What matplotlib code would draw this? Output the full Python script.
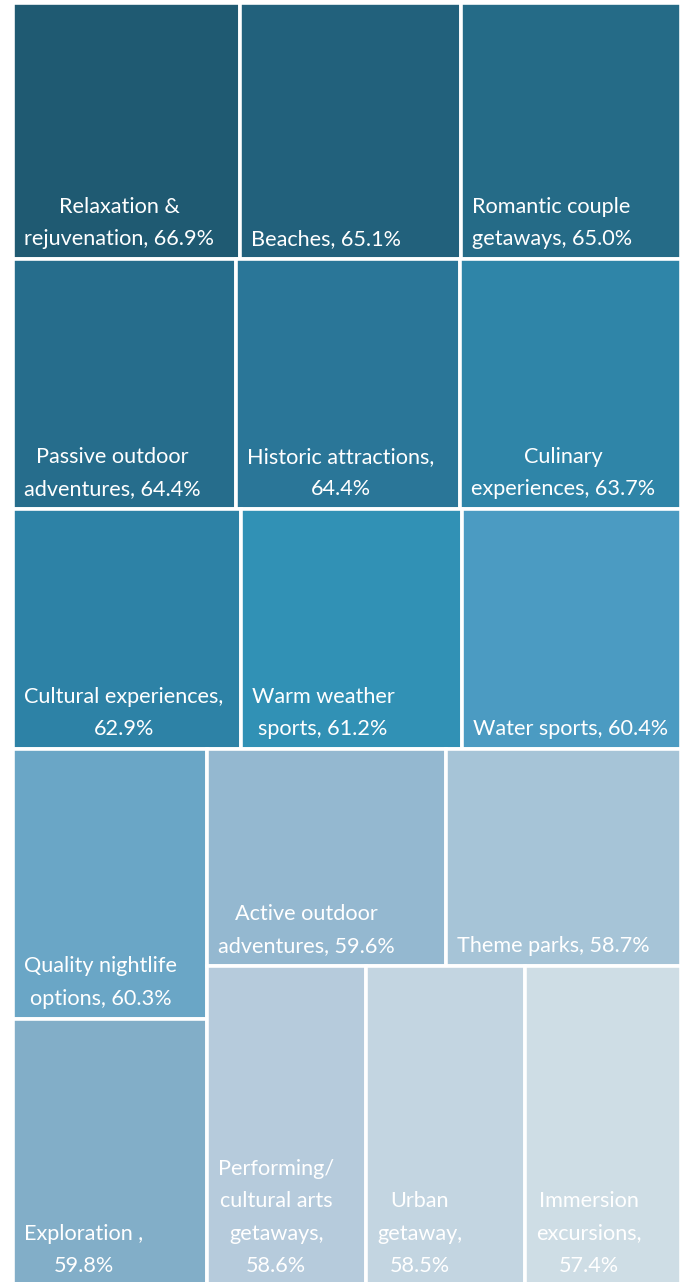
import matplotlib.pyplot as plt
from matplotlib.patches import Rectangle

# treemap data (share of travellers, %)
names = [
    "Relaxation &\nrejuvenation", "Beaches", "Romantic couple\ngetaways",
    "Passive outdoor\nadventures", "Historic attractions", "Culinary\nexperiences",
    "Cultural experiences", "Warm weather\nsports", "Water sports",
    "Quality nightlife\noptions", "Exploration ", "Active outdoor\nadventures",
    "Theme parks", "Performing/\ncultural arts\ngetaways", "Urban\ngetaway",
    "Immersion\nexcursions",
]
joiners = [", ", ", ", ", ", ", ", ",\n", ", ", ",\n", ", ", ", ", ", ", ",\n", ", ", ", ", ",\n", ",\n", ",\n"]
values = [66.9, 65.1, 65.0, 64.4, 64.4, 63.7, 62.9, 61.2, 60.4, 60.3, 59.8, 59.6, 58.7, 58.6, 58.5, 57.4]
colors = [
    "#1f5a72", "#22617c", "#256b87",
    "#266d8c", "#2a7698", "#2f85a8",
    "#2d82a6", "#3191b5", "#4b9bc2",
    "#6aa6c6", "#82aec8", "#94b8d0",
    "#a6c4d7", "#b6cbdc", "#c3d5e1", "#cedde5",
]

# slice-and-dice structure: "v" stacks children top to bottom, "h" puts them side by side
structure = ("v", [
    ("h", [0, 1, 2]),
    ("h", [3, 4, 5]),
    ("h", [6, 7, 8]),
    ("h", [("v", [9, 10]), ("v", [("h", [11, 12]), ("h", [13, 14, 15])])]),
])


def total(node):
    if isinstance(node, int):
        return values[node]
    return sum(total(c) for c in node[1])


def layout(node, x, y, w, h, out):
    if isinstance(node, int):
        out[node] = (x, y, w, h)
        return
    direction, children = node
    s = total(node)
    pos = 0.0
    for c in children:
        frac = total(c) / s
        if direction == "v":
            layout(c, x, y + pos * h, w, frac * h, out)
        else:
            layout(c, x + pos * w, y, frac * w, h, out)
        pos += frac


W, H = 694, 1282
fig = plt.figure(figsize=(W / 100, H / 100), dpi=100)
ax = fig.add_axes([0, 0, 1, 1])
ax.set_xlim(0, W)
ax.set_ylim(H, 0)
ax.axis("off")

rects = {}
layout(structure, 13, 3, 668, 1283, rects)

for i, (x, y, w, h) in rects.items():
    ax.add_patch(Rectangle((x, y), w, h, facecolor=colors[i], edgecolor="white", linewidth=2.6))
    label = f"{names[i]}{joiners[i]}{values[i]:.1f}%"
    ax.text(x + 11, y + h - 10, label, color="white", fontsize=15.6, family=["Lato", "DejaVu Sans"],
            ha="left", va="bottom", multialignment="center", linespacing=1.78)

fig.savefig("out.png", dpi=100)
